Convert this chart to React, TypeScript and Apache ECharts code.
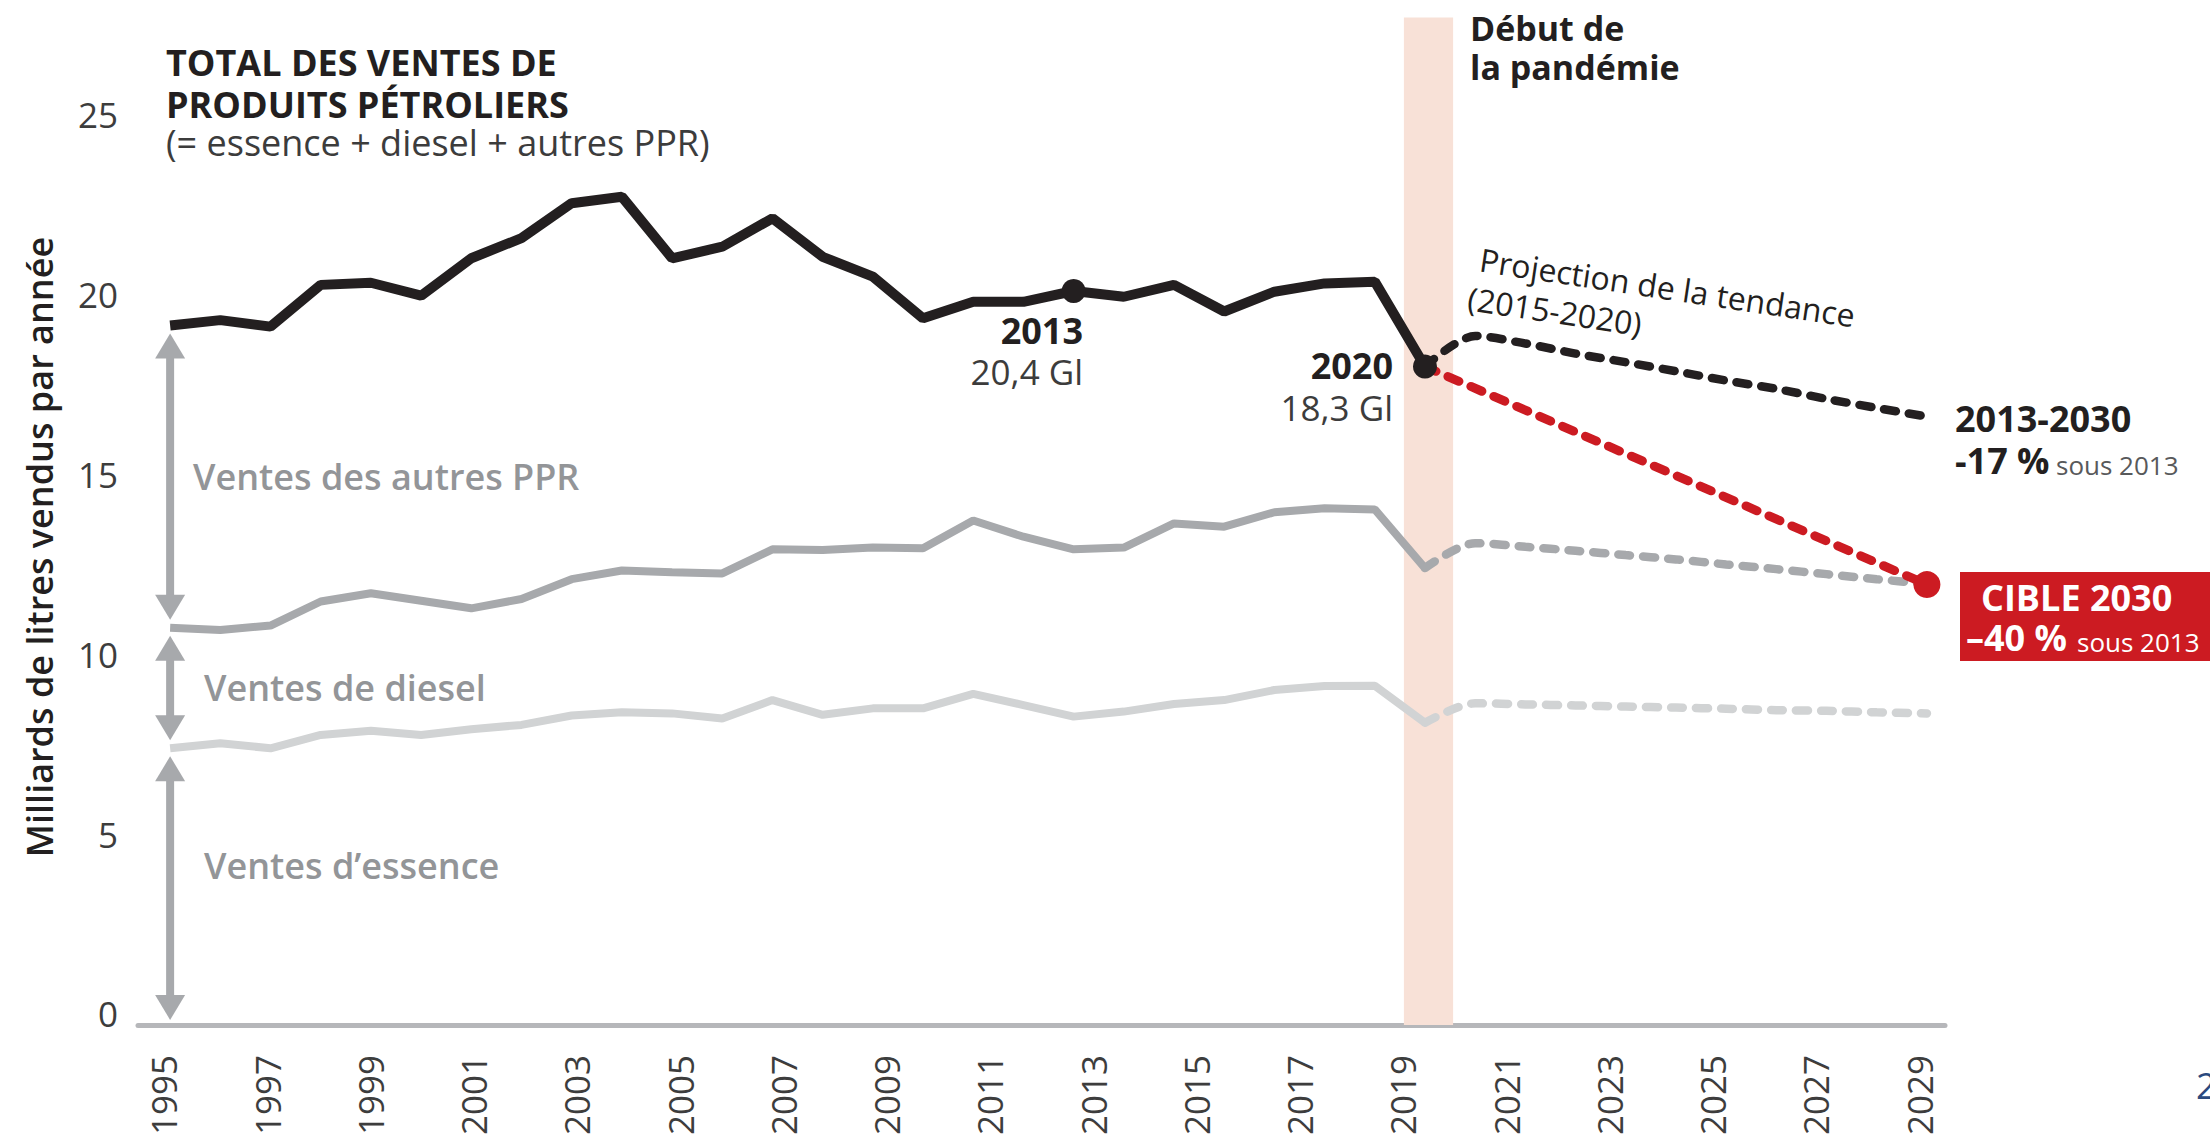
import React, { useEffect, useRef } from 'react';
import * as echarts from 'echarts';

const FONT = '"Open Sans", "Noto Sans", "DejaVu Sans", sans-serif';

// ---- data ----
const histYears = [1995, 1996, 1997, 1998, 1999, 2000, 2001, 2002, 2003, 2004, 2005, 2006, 2007, 2008, 2009, 2010, 2011, 2012, 2013, 2014, 2015, 2016, 2017, 2018, 2019, 2020];
const totalSales = [19.44, 19.59, 19.41, 20.57, 20.63, 20.27, 21.31, 21.87, 22.84, 23.02, 21.31, 21.63, 22.42, 21.35, 20.8, 19.64, 20.1, 20.1, 20.4, 20.24, 20.57, 19.83, 20.38, 20.61, 20.66, 18.3];
const essenceDieselSales = [11.04, 10.98, 11.1, 11.77, 12.0, 11.79, 11.58, 11.84, 12.39, 12.63, 12.58, 12.55, 13.22, 13.2, 13.27, 13.25, 14.02, 13.57, 13.22, 13.27, 13.94, 13.85, 14.25, 14.36, 14.33, 12.7];
const essenceSales = [7.69, 7.83, 7.69, 8.06, 8.18, 8.06, 8.22, 8.34, 8.6, 8.69, 8.66, 8.52, 9.03, 8.62, 8.8, 8.8, 9.2, 8.89, 8.57, 8.71, 8.92, 9.03, 9.31, 9.42, 9.43, 8.4];

const projYears = [2020, 2021, 2022, 2023, 2024, 2025, 2026, 2027, 2028, 2029, 2030];
const totalTrend = [18.3, 19.15, 18.94, 18.66, 18.42, 18.17, 17.91, 17.68, 17.4, 17.15, 16.91];
const essenceDieselTrend = [12.7, 13.39, 13.29, 13.18, 13.06, 12.94, 12.8, 12.67, 12.53, 12.39, 12.26];
const essenceTrend = [8.4, 8.94, 8.91, 8.88, 8.85, 8.82, 8.79, 8.75, 8.73, 8.69, 8.66];

const targetYears = [2020, 2030];
const targetValues = [18.3, 12.24];

const highlightYears = [2013, 2020];
const highlightTexts = ['20,4 Gl', '18,3 Gl'];

const pandemicBand = [2019.58, 2020.56];

const xTickLabels = ['1995', '1996', '1997', '1998', '1999', '2000', '2001', '2002', '2003', '2004', '2005', '2006', '2007', '2008', '2009', '2010', '2011', '2012', '2013', '2014', '2015', '2016', '2017', '2018', '2019', '2020', '2021', '2022', '2023', '2024', '2025', '2026', '2027', '2028', '2029'];

// ---- colours ----
const BLACK = '#231f20';
const DARK_GREY = '#a7a9ac';
const LIGHT_GREY = '#d1d3d4';
const RED = '#cc1b22';
const BAND = '#f8e1d7';
const LABEL_GREY = '#939598';

const pair = (xs: number[], ys: number[]) => xs.map((x, i) => [x, ys[i]]);

function buildOption(): any {
  const arrowSpans = [
    [histYears[0], totalSales[0], essenceDieselSales[0]],
    [histYears[0], essenceDieselSales[0], essenceSales[0]],
    [histYears[0], essenceSales[0], 0],
  ];

  const dashed = (color: string, width: number) => ({
    color,
    width,
    type: [12, 13],
    cap: 'round',
  });

  const hiIdx = highlightYears.map((y) => histYears.indexOf(y));

  const txt = (x: number, y: number, text: string, size: number, weight: any, fill: string, extra: any = {}) => ({
    type: 'text',
    x,
    y,
    silent: true,
    style: {
      text,
      fontSize: size,
      fontWeight: weight,
      fontFamily: FONT,
      fill,
      align: 'left',
      verticalAlign: 'middle',
      ...extra,
    },
  });

  return {
    animation: false,
    backgroundColor: '#ffffff',
    textStyle: { fontFamily: FONT },
    grid: { left: 138, right: 265, top: 17.56, bottom: 113, containLabel: false },
    xAxis: [
      {
        type: 'category',
        data: xTickLabels,
        boundaryGap: true,
        position: 'bottom',
        axisLine: { show: true, lineStyle: { color: '#b6b7ba', width: 5 } },
        axisTick: { show: false },
        splitLine: { show: false },
        axisLabel: {
          interval: 1,
          rotate: 90,
          margin: 30,
          fontSize: 35,
          color: '#3d3d3d',
          fontFamily: FONT,
        },
      },
      {
        type: 'value',
        min: 1994.36,
        max: 2030.36,
        show: false,
        position: 'bottom',
        splitLine: { show: false },
      },
    ],
    yAxis: [
      {
        type: 'value',
        min: 0,
        max: 28,
        interval: 5,
        axisLine: { show: false },
        axisTick: { show: false },
        splitLine: { show: false },
        axisLabel: {
          showMaxLabel: false,
          margin: 20,
          fontSize: 35,
          color: '#3d3d3d',
          fontFamily: FONT,
          verticalAlign: 'bottom',
          lineHeight: 22,
          formatter: (v: number) => (v % 5 === 0 ? String(v) : ''),
        },
      },
    ],
    series: [
      {
        type: 'line',
        name: 'Ventes d’essence',
        xAxisIndex: 1,
        data: pair(histYears, essenceSales),
        symbol: 'none',
        lineStyle: { color: LIGHT_GREY, width: 8 },
        z: 3,
        markArea: {
          silent: true,
          z: 1,
          itemStyle: { color: BAND },
          data: [[{ xAxis: pandemicBand[0] }, { xAxis: pandemicBand[1] }]],
        },
      },
      {
        type: 'line',
        name: 'Tendance essence',
        xAxisIndex: 1,
        data: pair(projYears, essenceTrend),
        symbol: 'none',
        smooth: 0.3,
        lineStyle: dashed(LIGHT_GREY, 8.5),
        z: 3,
      },
      {
        type: 'line',
        name: 'Essence + diesel',
        xAxisIndex: 1,
        data: pair(histYears, essenceDieselSales),
        symbol: 'none',
        lineStyle: { color: DARK_GREY, width: 8 },
        z: 4,
      },
      {
        type: 'line',
        name: 'Tendance essence + diesel',
        xAxisIndex: 1,
        data: pair(projYears, essenceDieselTrend),
        symbol: 'none',
        smooth: 0.3,
        lineStyle: dashed(DARK_GREY, 8.5),
        z: 4,
      },
      {
        type: 'line',
        name: 'Total',
        xAxisIndex: 1,
        data: pair(histYears, totalSales),
        symbol: 'none',
        lineStyle: { color: BLACK, width: 10 },
        z: 5,
      },
      {
        type: 'line',
        name: 'Tendance total',
        xAxisIndex: 1,
        data: pair(projYears, totalTrend),
        symbol: 'none',
        smooth: 0.3,
        lineStyle: dashed(BLACK, 8.5),
        z: 5,
      },
      {
        type: 'line',
        name: 'Cible 2030',
        xAxisIndex: 1,
        data: pair(targetYears, targetValues),
        symbol: 'none',
        lineStyle: dashed(RED, 9),
        z: 6,
      },
      {
        type: 'custom',
        name: 'arrows',
        xAxisIndex: 1,
        yAxisIndex: 0,
        silent: true,
        z: 7,
        encode: { x: 0, y: [1, 2] },
        data: arrowSpans,
        renderItem: (params: any, api: any) => {
          const x = api.value(0);
          const a = api.value(1);
          const b = api.value(2);
          const p1 = api.coord([x, a]);
          const p2 = api.coord([x, b]);
          const top = p1[1] + 8;
          const bot = p2[1] - (params.dataIndex === 2 ? 5 : 8);
          const hw = 15;
          const hh = 25;
          const cx = p1[0];
          return {
            type: 'group',
            children: [
              {
                type: 'line',
                shape: { x1: cx, y1: top + hh - 2, x2: cx, y2: bot - hh + 2 },
                style: { stroke: DARK_GREY, lineWidth: 8 },
              },
              {
                type: 'polygon',
                shape: { points: [[cx, top], [cx - hw, top + hh], [cx + hw, top + hh]] },
                style: { fill: DARK_GREY },
              },
              {
                type: 'polygon',
                shape: { points: [[cx, bot], [cx - hw, bot - hh], [cx + hw, bot - hh]] },
                style: { fill: DARK_GREY },
              },
            ],
          };
        },
      },
      {
        type: 'scatter',
        name: 'points',
        xAxisIndex: 1,
        symbolSize: 24,
        itemStyle: { color: BLACK, opacity: 1 },
        z: 10,
        data: [
          {
            value: [highlightYears[0], totalSales[hiIdx[0]]],
            label: {
              show: true,
              position: [21.4, 31.5],
              align: 'right',
              verticalAlign: 'top',
              formatter: `{y|${highlightYears[0]}}\n{v|${highlightTexts[0]}}`,
              rich: {
                y: { fontSize: 36, fontWeight: 'bold', color: BLACK, lineHeight: 41, fontFamily: FONT, align: 'right' },
                v: { fontSize: 35, color: '#3c3c3c', lineHeight: 41, fontFamily: FONT, align: 'right' },
              },
            },
          },
          {
            value: [highlightYears[1], totalSales[hiIdx[1]]],
            label: {
              show: true,
              position: [-20, -10],
              align: 'right',
              verticalAlign: 'top',
              formatter: `{y|${highlightYears[1]}}\n{v|${highlightTexts[1]}}`,
              rich: {
                y: { fontSize: 36, fontWeight: 'bold', color: BLACK, lineHeight: 42, fontFamily: FONT, align: 'right' },
                v: { fontSize: 35, color: '#3c3c3c', lineHeight: 42, fontFamily: FONT, align: 'right' },
              },
            },
          },
        ],
      },
      {
        type: 'scatter',
        name: 'cible',
        xAxisIndex: 1,
        symbolSize: 27,
        itemStyle: { color: RED, opacity: 1 },
        z: 10,
        data: [[targetYears[1], targetValues[1]]],
      },
    ],
    graphic: [
      txt(166, 62, 'TOTAL DES VENTES DE', 36, 'bold', BLACK),
      txt(166, 104, 'PRODUITS PÉTROLIERS', 36, 'bold', BLACK),
      txt(166, 142, '(= essence + diesel + autres PPR)', 36, 'normal', '#3c3c3c'),
      {
        type: 'text',
        x: 39,
        y: 547,
        rotation: Math.PI / 2,
        silent: true,
        style: {
          text: 'Milliards de litres vendus par année',
          fontSize: 36,
          fontWeight: 600,
          fontFamily: FONT,
          fill: BLACK,
          align: 'center',
          verticalAlign: 'middle',
        },
      },
      txt(193, 476, 'Ventes des autres PPR', 36, 600, LABEL_GREY),
      txt(204, 687, 'Ventes de diesel', 36, 600, LABEL_GREY),
      txt(204, 865, 'Ventes d’essence', 36, 600, LABEL_GREY),
      txt(1470, 28, 'Début de', 34, 'bold', BLACK),
      txt(1470, 67, 'la pandémie', 34, 'bold', BLACK),
      {
        type: 'group',
        x: 1480,
        y: 259,
        rotation: (-8.5 * Math.PI) / 180,
        children: [
          txt(0, 0, 'Projection de la tendance', 32, 'normal', BLACK),
          txt(-6, 40, '(2015-2020)', 32, 'normal', BLACK),
        ],
      },
      txt(1955, 418, '2013-2030', 36, 'bold', BLACK),
      txt(1955, 478, '-17 %', 36, 'bold', BLACK, { verticalAlign: 'bottom' }),
      txt(2056, 478, 'sous 2013', 26, 'normal', '#58595b', { verticalAlign: 'bottom' }),
      {
        type: 'rect',
        silent: true,
        shape: { x: 1960, y: 572, width: 250, height: 89 },
        style: { fill: RED },
      },
      txt(1981, 597, 'CIBLE 2030', 36, 'bold', '#ffffff'),
      txt(1966, 655, '–40 %', 36, 'bold', '#ffffff', { verticalAlign: 'bottom' }),
      txt(2077, 655, 'sous 2013', 26, 'normal', '#ffffff', { verticalAlign: 'bottom' }),
      txt(2196, 1085, '2', 36, 'normal', '#2b4a7e'),
    ],
  };
}

export default function App() {
  const ref = useRef<HTMLDivElement>(null);
  useEffect(() => {
    document.body.style.margin = '0';
    document.body.style.overflow = 'hidden';
    const chart = echarts.init(ref.current as HTMLDivElement, undefined, { renderer: 'svg' });
    chart.setOption(buildOption());
    return () => {
      chart.dispose();
    };
  }, []);
  return <div ref={ref} style={{ width: 2210, height: 1138 }} />;
}
